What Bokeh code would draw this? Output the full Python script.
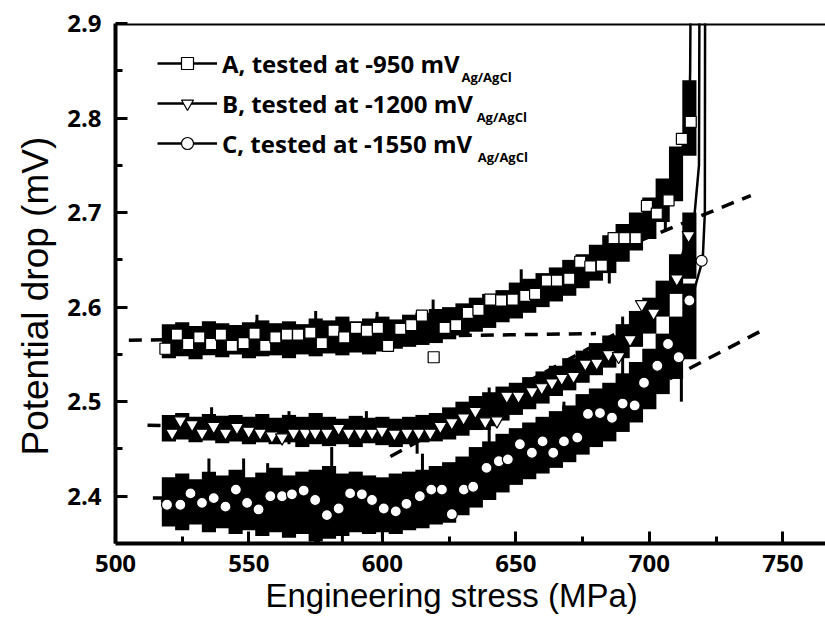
from bokeh.plotting import figure
from bokeh.models import Range1d, Span, Label, Legend, LegendItem, FixedTicker, Title
from bokeh.embed import file_html
from bokeh.resources import INLINE

# ---------------- data ----------------
band_x = [520, 525, 530, 535, 540, 545, 550, 555, 560, 565, 570, 575, 580, 585, 590, 595,
          600, 605, 610, 615, 620, 625, 630, 635, 640, 645, 650, 655, 660, 665, 670, 675,
          680, 685, 690, 695, 700, 705, 710, 715]

a_top = [2.582, 2.584, 2.580, 2.585, 2.583, 2.581, 2.584, 2.586, 2.583, 2.585, 2.582, 2.588,
         2.586, 2.590, 2.585, 2.588, 2.590, 2.587, 2.592, 2.594, 2.598, 2.600, 2.604, 2.610,
         2.614, 2.618, 2.626, 2.630, 2.636, 2.642, 2.650, 2.656, 2.666, 2.676, 2.688, 2.700,
         2.716, 2.736, 2.770, 2.840]
a_bot = [2.546, 2.548, 2.545, 2.549, 2.547, 2.550, 2.546, 2.548, 2.549, 2.546, 2.550, 2.548,
         2.551, 2.549, 2.552, 2.550, 2.553, 2.556, 2.558, 2.560, 2.562, 2.566, 2.570, 2.574,
         2.578, 2.584, 2.588, 2.594, 2.600, 2.606, 2.612, 2.620, 2.628, 2.636, 2.648, 2.660,
         2.672, 2.690, 2.712, 2.760]

b_top = [2.486, 2.488, 2.484, 2.487, 2.485, 2.486, 2.484, 2.487, 2.483, 2.486, 2.484, 2.488,
         2.484, 2.482, 2.485, 2.483, 2.484, 2.482, 2.484, 2.486, 2.488, 2.494, 2.500, 2.506,
         2.510, 2.516, 2.520, 2.526, 2.532, 2.538, 2.546, 2.554, 2.562, 2.570, 2.582, 2.596,
         2.610, 2.628, 2.656, 2.700]
b_bot = [2.458, 2.460, 2.457, 2.459, 2.456, 2.458, 2.455, 2.457, 2.455, 2.457, 2.452, 2.455,
         2.453, 2.455, 2.452, 2.456, 2.454, 2.452, 2.455, 2.457, 2.458, 2.460, 2.464, 2.470,
         2.474, 2.480, 2.486, 2.492, 2.498, 2.506, 2.512, 2.520, 2.528, 2.536, 2.546, 2.558,
         2.572, 2.590, 2.614, 2.630]

c_top = [2.420, 2.424, 2.418, 2.426, 2.422, 2.428, 2.420, 2.425, 2.430, 2.422, 2.426, 2.428,
         2.432, 2.424, 2.426, 2.422, 2.420, 2.424, 2.426, 2.428, 2.432, 2.436, 2.442, 2.452,
         2.458, 2.466, 2.472, 2.478, 2.484, 2.490, 2.496, 2.508, 2.514, 2.520, 2.530, 2.542,
         2.556, 2.572, 2.590, 2.625]
c_bot = [2.368, 2.364, 2.370, 2.362, 2.366, 2.360, 2.364, 2.358, 2.362, 2.356, 2.360, 2.352,
         2.355, 2.358, 2.362, 2.360, 2.362, 2.360, 2.364, 2.366, 2.370, 2.372, 2.380, 2.388,
         2.396, 2.404, 2.412, 2.418, 2.424, 2.430, 2.436, 2.444, 2.452, 2.458, 2.468, 2.478,
         2.492, 2.508, 2.524, 2.545]

# centre traces including the final vertical rise
a_line_x = [518, 540, 560, 580, 600, 620, 640, 650, 660, 670, 680, 690, 700, 705, 710, 713, 715, 715.3, 715.5]
a_line_y = [2.566, 2.566, 2.567, 2.569, 2.572, 2.580, 2.594, 2.605, 2.617, 2.630, 2.648, 2.668,
            2.695, 2.715, 2.745, 2.775, 2.810, 2.850, 2.950]
b_line_x = [518, 540, 560, 580, 600, 620, 630, 640, 650, 660, 670, 680, 690, 700, 705, 710, 714, 717, 718.6, 718.8]
b_line_y = [2.472, 2.471, 2.470, 2.469, 2.468, 2.470, 2.478, 2.490, 2.503, 2.515, 2.530, 2.545,
            2.562, 2.590, 2.610, 2.635, 2.670, 2.700, 2.750, 2.950]
c_line_x = [517, 540, 560, 580, 600, 610, 620, 630, 640, 650, 660, 670, 680, 690, 700, 705, 710, 715, 718, 720, 720.8, 720.9]
c_line_y = [2.395, 2.395, 2.395, 2.393, 2.392, 2.395, 2.402, 2.410, 2.428, 2.445, 2.455, 2.463,
            2.482, 2.495, 2.525, 2.545, 2.555, 2.600, 2.630, 2.650, 2.700, 2.950]

# spikes of the noisy signal
a_spk_x = [553, 575, 598, 619, 652, 685, 706]
a_spk_lo = [2.570, 2.575, 2.570, 2.580, 2.600, 2.625, 2.680]
a_spk_hi = [2.592, 2.596, 2.595, 2.608, 2.640, 2.660, 2.730]
b_spk_x = [536, 565, 594, 613, 640, 690]
b_spk_lo = [2.470, 2.455, 2.460, 2.445, 2.470, 2.520]
b_spk_hi = [2.494, 2.490, 2.490, 2.470, 2.515, 2.590]
c_spk_x = [535, 548, 557, 576, 581, 585, 600, 615, 640, 668, 712]
c_spk_lo = [2.405, 2.400, 2.390, 2.350, 2.360, 2.350, 2.355, 2.420, 2.440, 2.460, 2.500]
c_spk_hi = [2.440, 2.440, 2.435, 2.380, 2.452, 2.380, 2.380, 2.445, 2.475, 2.500, 2.560]

# open markers
a_mx = [518.7, 523.0, 527.2, 531.4, 535.8, 539.5, 543.6, 548.0, 552.1, 556.1, 559.9, 564.2,
        568.4, 573.0, 577.3, 581.7, 585.7, 590.1, 594.2, 598.3, 602.1, 606.7, 610.8, 614.8,
        619.2, 623.3, 627.6, 632.0, 636.0, 640.4, 644.5, 648.8, 653.5, 657.2, 661.6, 665.4,
        670.0, 674.1, 677.9, 682.2, 686.6, 690.7, 694.9, 699.1, 702.8, 707.2, 712.2, 715.5]
a_my = [2.556, 2.571, 2.561, 2.568, 2.561, 2.571, 2.559, 2.562, 2.572, 2.559, 2.568, 2.571,
        2.571, 2.573, 2.562, 2.575, 2.568, 2.578, 2.575, 2.578, 2.559, 2.577, 2.581, 2.591,
        2.547, 2.578, 2.581, 2.594, 2.597, 2.608, 2.607, 2.608, 2.612, 2.614, 2.628, 2.628,
        2.630, 2.648, 2.643, 2.644, 2.673, 2.673, 2.673, 2.707, 2.699, 2.713, 2.778, 2.796]
b_mx = [521.2, 524.3, 528.7, 532.4, 536.8, 541.2, 545.5, 549.9, 554.2, 558.6, 562.4, 566.7,
        571.1, 574.8, 579.2, 583.6, 587.3, 591.7, 596.1, 599.8, 604.5, 609.2, 613.6, 617.9,
        621.7, 626.0, 630.4, 634.8, 638.5, 642.9, 646.6, 651.0, 656.0, 659.7, 663.5, 667.2,
        671.6, 676.0, 680.3, 684.7, 688.5, 692.8, 697.2, 701.6, 710.3, 714.7]
b_my = [2.467, 2.480, 2.476, 2.467, 2.474, 2.467, 2.473, 2.469, 2.467, 2.464, 2.462, 2.467,
        2.467, 2.467, 2.467, 2.472, 2.467, 2.467, 2.467, 2.469, 2.466, 2.467, 2.467, 2.467,
        2.474, 2.478, 2.483, 2.490, 2.479, 2.480, 2.506, 2.506, 2.511, 2.515, 2.520, 2.525,
        2.527, 2.540, 2.541, 2.550, 2.548, 2.566, 2.603, 2.594, 2.630, 2.676]
c_mx = [519.3, 524.3, 528.1, 532.4, 536.8, 541.2, 545.1, 549.3, 553.6, 558.0, 562.4, 566.1,
        570.5, 574.8, 579.2, 583.6, 587.9, 592.3, 596.1, 600.5, 605.0, 609.0, 614.0, 618.3,
        622.3, 626.0, 630.5, 634.0, 639.0, 643.6, 647.0, 651.5, 656.0, 660.0, 664.0, 668.0,
        673.0, 677.0, 681.5, 686.0, 690.0, 694.5, 698.0, 703.0, 707.0, 711.0, 715.0, 719.6]
c_my = [2.391, 2.391, 2.403, 2.393, 2.398, 2.389, 2.407, 2.393, 2.386, 2.400, 2.400, 2.402,
        2.406, 2.396, 2.380, 2.387, 2.403, 2.402, 2.396, 2.387, 2.384, 2.392, 2.400, 2.407,
        2.407, 2.381, 2.407, 2.410, 2.430, 2.437, 2.439, 2.455, 2.446, 2.458, 2.446, 2.458,
        2.462, 2.487, 2.488, 2.483, 2.498, 2.496, 2.520, 2.538, 2.561, 2.547, 2.607, 2.649]

# dashed construction lines (flat and tangent lines)
dash_x0 = [505, 605, 512, 603, 514, 620]
dash_y0 = [2.565, 2.565, 2.475, 2.442, 2.398, 2.395]
dash_x1 = [680, 738, 640, 705, 640, 742]
dash_y1 = [2.572, 2.718, 2.472, 2.599, 2.398, 2.575]

x_ticks = [500, 550, 600, 650, 700, 750]
x_minor = [525, 575, 625, 675, 725, 775]
y_ticks = [2.4, 2.5, 2.6, 2.7, 2.8, 2.9]
y_minor = [2.45, 2.55, 2.65, 2.75, 2.85]

labels = ["A, tested at -950 mV", "B, tested at -1200 mV", "C, tested at -1550 mV"]
sub_label = "Ag/AgCl"
x_title = "Engineering stress (MPa)"
y_title = "Potential drop (mV)"

# ---------------- figure ----------------
FONT = "Arial"
BFONT = "Open Sans"
p = figure(width=825, height=623, output_backend="svg", toolbar_location=None,
           x_range=Range1d(500, 766), y_range=Range1d(2.35, 2.9),
           min_border_left=115, min_border_right=0, min_border_top=23, min_border_bottom=80)
p.outline_line_color = None
p.xgrid.visible = False
p.ygrid.visible = False
p.background_fill_color = "white"

for ax in (p.xaxis[0], p.yaxis[0]):
    ax.axis_line_width = 4
    ax.axis_line_color = "black"
    ax.major_tick_in = 12
    ax.major_tick_out = 0
    ax.minor_tick_in = 7
    ax.minor_tick_out = 0
    ax.major_tick_line_width = 3
    ax.minor_tick_line_width = 3
    ax.major_label_text_font = BFONT
    ax.major_label_text_font_style = "bold"
    ax.major_label_text_font_size = "24px"
    ax.major_label_text_color = "black"
p.xaxis[0].ticker = FixedTicker(ticks=x_ticks, minor_ticks=x_minor)
p.yaxis[0].ticker = FixedTicker(ticks=y_ticks, minor_ticks=y_minor)
p.xaxis[0].major_label_standoff = 11
p.yaxis[0].major_label_standoff = 14

p.add_layout(Span(location=2.9, dimension="width", line_color="black", line_width=4))

# dashed lines
p.segment(x0=dash_x0, y0=dash_y0, x1=dash_x1, y1=dash_y1, line_color="black",
          line_width=3.5, line_dash="13 9")

series = [
    (a_top, a_bot, a_line_x, a_line_y, a_spk_x, a_spk_lo, a_spk_hi, a_mx, a_my, "square", 11),
    (b_top, b_bot, b_line_x, b_line_y, b_spk_x, b_spk_lo, b_spk_hi, b_mx, b_my, "inverted_triangle", 13),
    (c_top, c_bot, c_line_x, c_line_y, c_spk_x, c_spk_lo, c_spk_hi, c_mx, c_my, "circle", 11),
]
legend_items = []
for (top, bot, lx, ly, sx, slo, shi, mx, my, marker, size), lab in zip(series, labels):
    p.vbar(x=band_x, width=5.3, top=top, bottom=bot, fill_color="black", line_color=None)
    p.segment(x0=sx, y0=slo, x1=sx, y1=shi, line_color="black", line_width=3)
    ln = p.line(lx, ly, line_color="black", line_width=2.5)
    sc = p.scatter(mx, my, marker=marker, size=size, fill_color="white",
                   line_color="black", line_width=1.2)
    legend_items.append(LegendItem(label=lab, renderers=[ln, sc]))

legend = Legend(items=legend_items, location=(42, 383.5), glyph_width=60, glyph_height=30,
                label_height=33, label_standoff=5, spacing=7, padding=0, margin=0,
                border_line_color=None, background_fill_alpha=0,
                label_text_font=BFONT, label_text_font_style="bold",
                label_text_font_size="24px", label_text_color="black")
p.add_layout(legend)

for sxp, syp in [(629.6, 2.8429), (635.3, 2.8006), (635.7, 2.7583)]:
    p.add_layout(Label(x=sxp, y=syp, text=sub_label, text_font=BFONT, text_font_style="bold",
                       text_font_size="13px", text_baseline="middle", text_align="left",
                       text_color="black"))

p.add_layout(Title(text=x_title, align="left", offset=150, standoff=0,
                   text_font=FONT, text_font_style="normal", text_font_size="33px",
                   text_color="black"), "below")
p.add_layout(Title(text=y_title, align="left", offset=88, standoff=18,
                   text_font=FONT, text_font_style="normal", text_font_size="37px",
                   text_color="black"), "left")

open("out.html", "w").write(file_html(p, INLINE))
